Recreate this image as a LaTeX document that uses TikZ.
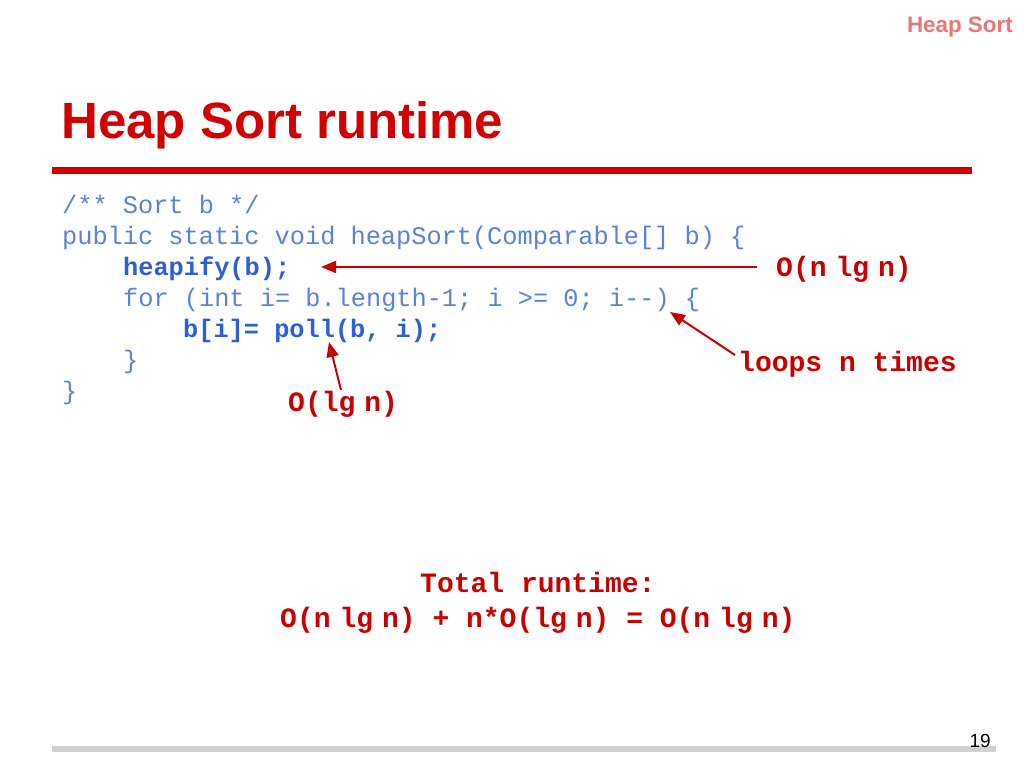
\documentclass[tikz,border=0pt]{standalone}
\usepackage{fontspec}
\setmainfont{Liberation Sans}
\newfontfamily\codefont{Liberation Mono}
\usetikzlibrary{arrows.meta}
\definecolor{titlered}{RGB}{210,0,0}
\definecolor{annred}{RGB}{200,0,0}
\definecolor{codeblue}{RGB}{90,130,222}
\definecolor{codebold}{RGB}{45,95,215}
\definecolor{headpink}{RGB}{232,120,120}
\definecolor{bargray}{RGB}{210,210,210}
\newcommand{\nsp}{\hspace{0.32em}}
\tikzset{
  code/.style={anchor=base west, inner sep=0pt, text=codeblue, font=\codefont\fontsize{25.3}{30}\selectfont},
  codeb/.style={code, text=codebold, font=\codefont\bfseries\fontsize{25.3}{30}\selectfont},
  ann/.style={anchor=base west, inner sep=0pt, text=annred, font=\codefont\bfseries\fontsize{28}{32}\selectfont},
  arr/.style={draw=annred, line width=2pt, -{Triangle[length=15pt,width=12pt]}}
}
\begin{document}
\begin{tikzpicture}[x=1pt,y=-1pt]
\useasboundingbox (0,0) rectangle (1024,768);
\fill[white] (0,0) rectangle (1024,768);
% header
\node[anchor=base east, inner sep=0pt, text=headpink, font=\bfseries\fontsize{22.4}{26}\selectfont] (hdr) at (1013,33) {Heap Sort};
\node[anchor=base west, inner sep=0pt, text=titlered, font=\bfseries\fontsize{51}{56}\selectfont] (title) at (61,138) {Heap Sort runtime};
\fill[titlered] (52,167) rectangle (972,173.5);
% code
\node[code] (l1) at (62,213) {/** Sort b */};
\node[code] (l2) at (62,244) {public static void heapSort(Comparable[] b) \{};
\node[codeb] (l3) at (123,275) {heapify(b);};
\node[code] (l4) at (123,306) {for (int i= b.length-1; i >= 0; i-{}-) \{};
\node[codeb] (l5) at (183,337) {b[i]= poll(b, i);};
\node[code] (l6) at (123,368) {\}};
\node[code] (l7) at (62,399) {\}};
% annotations
\node[ann] (onlgn) at (776,276) {O(n\nsp lg\nsp n)};
\node[ann] (loops) at (738,371) {loops n times};
\node[ann] (olgn) at (288,411) {O(lg\nsp n)};
\node[ann] (total) at (420,592) {Total runtime:};
\node[ann] (sum) at (280,627) {O(n\nsp lg\nsp n) + n*O(lg\nsp n) = O(n\nsp lg\nsp n)};
% arrows
\coordinate (a1s) at (757,267);
\coordinate (a1e) at (321,267);
\coordinate (a2s) at (735,355);
\coordinate (a2e) at (670,312);
\coordinate (a3s) at (341,390);
\coordinate (a3e) at (329,342);
\draw[arr] (a1s) -- (a1e);
\draw[arr] (a2s) -- (a2e);
\draw[arr] (a3s) -- (a3e);
% footer
\fill[bargray] (52,746) rectangle (996,752);
\node[anchor=base east, inner sep=0pt, font=\fontsize{19}{22}\selectfont] (pg) at (991,747) {19};
\end{tikzpicture}
\end{document}
